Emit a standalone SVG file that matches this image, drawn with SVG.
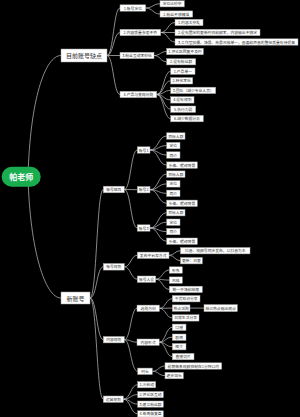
<svg xmlns="http://www.w3.org/2000/svg" width="300" height="417" viewBox="0 0 300 417">
<style>
.bg{fill:#000}
.n rect{fill:#fff;stroke:#a0a0a0;stroke-width:0.5}
.n text{font-family:"Noto Sans CJK SC","Noto Sans",sans-serif;font-size:3.8px;fill:#333;text-anchor:middle;dominant-baseline:central}
.m text{font-size:6px}
.c path{fill:none;stroke:#c4c4c4;stroke-width:0.7}
</style>
<rect class="bg" x="0" y="0" width="300" height="417"/>
<g class="c" id="connectors">
<path d="M28,177 C30,100 45,55.5 61,55.5"/>
<path d="M28,177 C30,250 45,298 61,298"/>
<path d="M107,55.5 C113.5,55.5 113.5,8 120,8"/>
<path d="M107,55.5 C113.5,55.5 113.5,32.5 120,32.5"/>
<path d="M107,55.5 L120,55.5"/>
<path d="M107,55.5 C113.5,55.5 113.5,94.5 120,94.5"/>
<path d="M145.7,8 C152.8,8 152.8,3.8 160,3.8"/>
<path d="M145.7,8 C152.8,8 152.8,14 160,14"/>
<path d="M160.7,32.5 C167.8,32.5 167.8,22.5 175,22.5"/>
<path d="M160.7,32.5 L175,32.5"/>
<path d="M160.7,32.5 C167.8,32.5 167.8,42 175,42"/>
<path d="M154,55.5 C160.3,55.5 160.3,51.5 166.7,51.5"/>
<path d="M154,55.5 C160.3,55.5 160.3,61.8 166.7,61.8"/>
<path d="M156.7,94.5 C163.7,94.5 163.7,71.2 170.7,71.2"/>
<path d="M156.7,94.5 C163.7,94.5 163.7,80.8 170.7,80.8"/>
<path d="M156.7,94.5 C163.7,94.5 163.7,90.4 170.7,90.4"/>
<path d="M156.7,94.5 C163.7,94.5 163.7,99.9 170.7,99.9"/>
<path d="M156.7,94.5 C163.7,94.5 163.7,109.2 170.7,109.2"/>
<path d="M156.7,94.5 C163.7,94.5 163.7,118.6 170.7,118.6"/>
<path d="M90,298 C96.7,298 96.7,189.5 103.3,189.5"/>
<path d="M90,298 C96.7,298 96.7,266.8 103.3,266.8"/>
<path d="M90,298 C96.7,298 96.7,339.7 103.3,339.7"/>
<path d="M90,298 C96.7,298 96.7,399.2 103.3,399.2"/>
<path d="M124.3,189.5 C130.8,189.5 130.8,150 137.3,150"/>
<path d="M124.3,189.5 L137.3,189.7"/>
<path d="M124.3,189.5 C130.8,189.5 130.8,228 137.3,228"/>
<path d="M150,150 C158.3,150 158.3,136 166.7,136"/>
<path d="M150,150 C158.3,150 158.3,145.6 166.7,145.6"/>
<path d="M150,150 C158.3,150 158.3,155 166.7,155"/>
<path d="M150,150 C158.3,150 158.3,165.1 166.7,165.1"/>
<path d="M150,189.7 C158.3,189.7 158.3,174.1 166.7,174.1"/>
<path d="M150,189.7 C158.3,189.7 158.3,183.9 166.7,183.9"/>
<path d="M150,189.7 C158.3,189.7 158.3,193.3 166.7,193.3"/>
<path d="M150,189.7 C158.3,189.7 158.3,203.3 166.7,203.3"/>
<path d="M150,228 C158.3,228 158.3,212.7 166.7,212.7"/>
<path d="M150,228 C158.3,228 158.3,222.2 166.7,222.2"/>
<path d="M150,228 C158.3,228 158.3,231.6 166.7,231.6"/>
<path d="M150,228 C158.3,228 158.3,241.2 166.7,241.2"/>
<path d="M124.3,266.8 C130.8,266.8 130.8,255.3 137.3,255.3"/>
<path d="M124.3,266.8 C130.8,266.8 130.8,279.2 137.3,279.2"/>
<path d="M169,255.3 C174.7,255.3 174.7,250.7 180.5,250.7"/>
<path d="M169,255.3 C174.7,255.3 174.7,260.7 180.5,260.7"/>
<path d="M155.7,279.2 C162.5,279.2 162.5,270 169.3,270"/>
<path d="M155.7,279.2 C162.5,279.2 162.5,280.1 169.3,280.1"/>
<path d="M155.7,279.2 C162.5,279.2 162.5,289.4 169.3,289.4"/>
<path d="M124.3,339.7 C130.7,339.7 130.7,308.3 137,308.3"/>
<path d="M124.3,339.7 C130.7,339.7 130.7,342.2 137,342.2"/>
<path d="M124.3,339.7 C130.7,339.7 130.7,371.3 137.7,371.3"/>
<path d="M159.4,308.3 C165.8,308.3 165.8,298.7 172.3,298.7"/>
<path d="M159.4,308.3 L172.3,308.1"/>
<path d="M159.4,308.3 C165.8,308.3 165.8,317.9 172.3,317.9"/>
<path d="M190,308.1 L204,308.1"/>
<path d="M159.2,342.2 C165.7,342.2 165.7,327.3 172.3,327.3"/>
<path d="M159.2,342.2 C165.7,342.2 165.7,337.2 172.3,337.2"/>
<path d="M159.2,342.2 C165.7,342.2 165.7,346.7 172.3,346.7"/>
<path d="M159.2,342.2 C165.7,342.2 165.7,356.6 172.3,356.6"/>
<path d="M152.3,371.3 C158.6,371.3 158.6,366 165,366"/>
<path d="M152.3,371.3 C158.6,371.3 158.6,375.6 165,375.6"/>
<path d="M123.3,399.2 C130.5,399.2 130.5,384.7 137.7,384.7"/>
<path d="M123.3,399.2 C130.5,399.2 130.5,394.6 137.7,394.6"/>
<path d="M123.3,399.2 C130.5,399.2 130.5,404.1 137.7,404.1"/>
<path d="M123.3,399.2 C130.5,399.2 130.5,413.9 137.7,413.9"/>
</g>
<g id="root"><rect x="1.7" y="166.7" width="39" height="20" rx="10" fill="#1aad4f"/><text x="21.2" y="176.9" font-family="Noto Sans CJK SC,Noto Sans,sans-serif" font-size="8" font-weight="bold" fill="#fff" text-anchor="middle" dominant-baseline="central">帕老师</text></g>
<g class="n m" id="nA"><rect x="61" y="49" width="46" height="13"/><text x="84" y="55.5">目前账号缺点</text></g>
<g class="n m" id="nB"><rect x="61" y="292" width="29" height="12"/><text x="75.5" y="298">新账号</text></g>
<g class="n" id="nA1"><rect x="120" y="4.8" width="25.7" height="6.4"/><text x="132.85" y="8">1.账号定位</text></g>
<g class="n" id="nA2"><rect x="120" y="29.3" width="40.7" height="6.4"/><text x="140.35" y="32.5">2.内容质量参差不齐</text></g>
<g class="n" id="nA3"><rect x="120" y="52.3" width="34" height="6.4"/><text x="137" y="55.5">3.粉丝互动率较低</text></g>
<g class="n" id="nA4"><rect x="120" y="91.3" width="36.7" height="6.4"/><text x="138.35" y="94.5">4.产品与变现问题</text></g>
<g class="n" id="nA1a"><rect x="160" y="0.7" width="24.3" height="6.2"/><text x="172.15" y="3.8">定位比较杂</text></g>
<g class="n" id="nA1b"><rect x="160" y="10.9" width="32.7" height="6.2"/><text x="176.35" y="14">2.粉丝不够精准</text></g>
<g class="n" id="nA2a"><rect x="175" y="19.3" width="28" height="6.4"/><text x="189" y="22.5">1.内容太杂乱</text></g>
<g class="n" id="nA2b"><rect x="175" y="29.3" width="85" height="6.4"/><text x="217.5" y="32.5">2.没有固定的更新时间和频率，内容输出不稳定</text></g>
<g class="n" id="nA2c"><rect x="175" y="38.8" width="123" height="6.4"/><text x="236.5" y="42">3.工作室拍摄，场景、布景风格单一，画面和声音的整体质量有待提高</text></g>
<g class="n" id="nA3a"><rect x="166.7" y="48.3" width="36.6" height="6.4"/><text x="185" y="51.5">1.评论区回复不及时</text></g>
<g class="n" id="nA3b"><rect x="166.7" y="58.7" width="29" height="6.2"/><text x="181.2" y="61.8">2.没有粉丝群</text></g>
<g class="n" id="nA4a"><rect x="170.7" y="68" width="24.3" height="6.4"/><text x="182.85" y="71.2">1.产品单一</text></g>
<g class="n" id="nA4b"><rect x="170.7" y="77.6" width="22" height="6.4"/><text x="181.7" y="80.8">2.转化率低</text></g>
<g class="n" id="nA4c"><rect x="170.7" y="87.2" width="45" height="6.4"/><text x="193.2" y="90.4">3.团队（缺少专业人员）</text></g>
<g class="n" id="nA4d"><rect x="170.7" y="96.7" width="23.3" height="6.4"/><text x="182.35" y="99.9">4.没有规划</text></g>
<g class="n" id="nA4e"><rect x="170.7" y="106" width="25" height="6.4"/><text x="183.2" y="109.2">5.执行力弱</text></g>
<g class="n" id="nA4f"><rect x="170.7" y="115.4" width="32.6" height="6.4"/><text x="187" y="118.6">6.缺少数据分析</text></g>
<g class="n" id="nB1"><rect x="103.3" y="186.2" width="21" height="6.6"/><text x="113.8" y="189.5">账号矩阵</text></g>
<g class="n" id="nB2"><rect x="103.3" y="263.5" width="21" height="6.6"/><text x="113.8" y="266.8">账号规划</text></g>
<g class="n" id="nB3"><rect x="103.3" y="336.5" width="21" height="6.4"/><text x="113.8" y="339.7">内容规划</text></g>
<g class="n" id="nB4"><rect x="103.3" y="396" width="20" height="6.4"/><text x="113.3" y="399.2">运营规划</text></g>
<g class="n" id="nAcc1"><rect x="137.3" y="146.8" width="12.7" height="6.4"/><text x="143.65" y="150">账号1</text></g>
<g class="n" id="nAcc2"><rect x="137.3" y="186.5" width="12.7" height="6.4"/><text x="143.65" y="189.7">账号2</text></g>
<g class="n" id="nAcc3"><rect x="137.3" y="224.8" width="12.7" height="6.4"/><text x="143.65" y="228">账号3</text></g>
<g class="n" id="nAcc1a"><rect x="166.7" y="132.8" width="18.3" height="6.4"/><text x="175.85" y="136">目标人群</text></g>
<g class="n" id="nAcc1b"><rect x="166.7" y="142.4" width="13.3" height="6.4"/><text x="173.35" y="145.6">定位</text></g>
<g class="n" id="nAcc1c"><rect x="166.7" y="151.8" width="13.3" height="6.4"/><text x="173.35" y="155">简介</text></g>
<g class="n" id="nAcc1d"><rect x="166.7" y="161.9" width="30.6" height="6.4"/><text x="182" y="165.1">头像、昵称背景</text></g>
<g class="n" id="nAcc2a"><rect x="166.7" y="170.9" width="18.3" height="6.4"/><text x="175.85" y="174.1">目标人群</text></g>
<g class="n" id="nAcc2b"><rect x="166.7" y="180.7" width="13.3" height="6.4"/><text x="173.35" y="183.9">定位</text></g>
<g class="n" id="nAcc2c"><rect x="166.7" y="190.1" width="13.3" height="6.4"/><text x="173.35" y="193.3">简介</text></g>
<g class="n" id="nAcc2d"><rect x="166.7" y="200.1" width="30.6" height="6.4"/><text x="182" y="203.3">头像、昵称背景</text></g>
<g class="n" id="nAcc3a"><rect x="166.7" y="209.5" width="18.3" height="6.4"/><text x="175.85" y="212.7">目标人群</text></g>
<g class="n" id="nAcc3b"><rect x="166.7" y="219" width="13.3" height="6.4"/><text x="173.35" y="222.2">定位</text></g>
<g class="n" id="nAcc3c"><rect x="166.7" y="228.4" width="13.3" height="6.4"/><text x="173.35" y="231.6">简介</text></g>
<g class="n" id="nAcc3d"><rect x="166.7" y="238" width="30.6" height="6.4"/><text x="182" y="241.2">头像、昵称背景</text></g>
<g class="n" id="nC1"><rect x="137.3" y="252.1" width="31.7" height="6.4"/><text x="153.15" y="255.3">发布平台及方式</text></g>
<g class="n" id="nC1a"><rect x="180.5" y="247.5" width="69.5" height="6.4"/><text x="215.25" y="250.7">抖音、视频号同步发布，以抖音为主</text></g>
<g class="n" id="nC1b"><rect x="180.5" y="257.5" width="21.8" height="6.4"/><text x="191.4" y="260.7">更新：日更</text></g>
<g class="n" id="nC2"><rect x="137.3" y="276" width="18.4" height="6.4"/><text x="146.5" y="279.2">账号人设</text></g>
<g class="n" id="nC2a"><rect x="169.3" y="266.8" width="13" height="6.4"/><text x="175.8" y="270">形象</text></g>
<g class="n" id="nC2b"><rect x="169.3" y="276.9" width="13" height="6.4"/><text x="175.8" y="280.1">风格</text></g>
<g class="n" id="nC2c"><rect x="169.3" y="286.2" width="33" height="6.4"/><text x="185.8" y="289.4">统一开场和结尾</text></g>
<g class="n" id="nD1"><rect x="137" y="305.1" width="22.4" height="6.4"/><text x="148.2" y="308.3">选题方向</text></g>
<g class="n" id="nD1a"><rect x="172.3" y="295.5" width="27.7" height="6.4"/><text x="186.15" y="298.7">干货知识分享</text></g>
<g class="n" id="nD1b"><rect x="172.3" y="304.9" width="17.7" height="6.4"/><text x="181.15" y="308.1">热点话题</text></g>
<g class="n" id="nD1b1"><rect x="204" y="304.6" width="33.3" height="7"/><text x="220.65" y="308.1">结合热点输出观点</text></g>
<g class="n" id="nD1c"><rect x="172.3" y="314.7" width="26.7" height="6.4"/><text x="185.65" y="317.9">日常生活分享</text></g>
<g class="n" id="nD2"><rect x="137" y="339" width="22.2" height="6.4"/><text x="148.1" y="342.2">内容形式</text></g>
<g class="n" id="nD2a"><rect x="172.3" y="324.1" width="13.7" height="6.4"/><text x="179.15" y="327.3">口播</text></g>
<g class="n" id="nD2b"><rect x="172.3" y="334" width="13.7" height="6.4"/><text x="179.15" y="337.2">剧情</text></g>
<g class="n" id="nD2c"><rect x="172.3" y="343.5" width="13.7" height="6.4"/><text x="179.15" y="346.7">图文</text></g>
<g class="n" id="nD2d"><rect x="172.3" y="353.4" width="21.7" height="6.4"/><text x="183.15" y="356.6">直播切片</text></g>
<g class="n" id="nD3"><rect x="137.7" y="368.1" width="14.6" height="6.4"/><text x="145" y="371.3">时长</text></g>
<g class="n" id="nD3a"><rect x="165" y="362.8" width="56.7" height="6.4"/><text x="193.35" y="366">前期每条视频控制在1分钟以内</text></g>
<g class="n" id="nD3b"><rect x="165" y="372.4" width="18.3" height="6.4"/><text x="174.15" y="375.6">逐步加长</text></g>
<g class="n" id="nE1"><rect x="137.7" y="381.6" width="18" height="6.2"/><text x="146.7" y="384.7">1.冷启动</text></g>
<g class="n" id="nE2"><rect x="137.7" y="391.5" width="25.6" height="6.2"/><text x="150.5" y="394.6">2.评论区互动</text></g>
<g class="n" id="nE3"><rect x="137.7" y="401" width="25.6" height="6.2"/><text x="150.5" y="404.1">3.建立粉丝群</text></g>
<g class="n" id="nE4"><rect x="137.7" y="410.8" width="25.6" height="6.2"/><text x="150.5" y="413.9">4.每周做复盘</text></g>
</svg>
